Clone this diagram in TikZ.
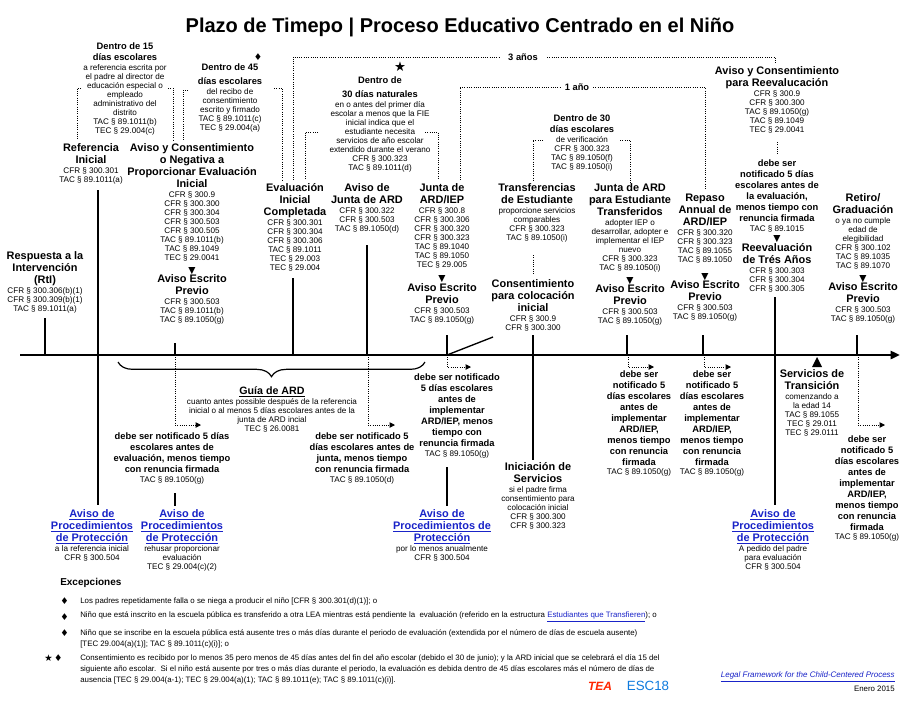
\documentclass[tikz,border=0pt]{standalone}
\usepackage{fontspec}
\setmainfont{Liberation Sans}
\newfontfamily\djv{DejaVu Sans}
\usetikzlibrary{arrows.meta,decorations.pathreplacing}
\definecolor{linkblue}{RGB}{25,35,200}
\newcommand\Hd{\fontsize{8.2}{9}\selectfont\bfseries}
\newcommand\Sm{\fontsize{6.1}{6.75}\selectfont\mdseries}
\newcommand\Ft{\fontsize{5.9}{6.75}\selectfont\mdseries}
\newcommand\Md{\fontsize{7}{8.2}\selectfont\bfseries}
\newcommand\HB[1]{{\Hd\begin{tabular}{@{}c@{}}#1\end{tabular}}}
\newcommand\SB[1]{{\Sm\begin{tabular}{@{}c@{}}#1\end{tabular}}}
\newcommand\MB[1]{{\Md\begin{tabular}{@{}c@{}}#1\end{tabular}}}
\newcommand\SBk[1]{{\color{black}\Sm\begin{tabular}{@{}c@{}}#1\end{tabular}}}
\newcommand\SL[1]{{\Ft\begin{tabular}{@{}l@{}}#1\end{tabular}}}
\newcommand\Tri{{\fontsize{7}{8}\selectfont\djv ▼}}
\newcommand\Lk[1]{\underline{#1}}
\tikzset{
 tx/.style={anchor=north,align=center,inner sep=0pt,font={\Sm\lineskip=0pt\lineskiplimit=0pt}},
 tick/.style={line width=1.3pt},
 dots/.style={densely dotted,line width=0.7pt},
 darr/.style={densely dotted,line width=0.7pt,-{Triangle[length=4pt,width=4pt]}},
 blue/.style={tx,text=linkblue},
}
\setlength\tabcolsep{0pt}
\begin{document}
\begin{tikzpicture}[x=0.75pt,y=-0.75pt]
\useasboundingbox (0,0) rectangle (919,711);
\fill[white] (0,0) rectangle (919,711);
\node[anchor=north,inner sep=0pt] (title) at (460,18) {\fontsize{15}{17}\selectfont\bfseries Plazo de Timepo | Proceso Educativo Centrado en el Niño};
% timeline
\coordinate (t0) at (20,355); \coordinate (t1) at (900,355);
\draw[line width=1.8pt,-{Triangle[length=7pt,width=6pt]}] (t0) -- (t1);
% ---------- top nodes
\node[tx] (d15) at (125,42) {\MB{Dentro de 15\\días escolares}\\\SB{a referencia escrita por\\el padre al director de\\educación especial o\\empleado\\administrativo del\\distrito\\TAC § 89.1011(b)\\TEC § 29.004(c)}};
\node[tx] (d45) at (230,63) {\MB{Dentro de 45\\[2pt]días escolares}\\\SB{del recibo de\\consentimiento\\escrito y firmado\\TAC § 89.1011(c)\\TEC § 29.004(a)}};
\node (dia1) at (258,57) {\djv\fontsize{7}{8}\selectfont ♦};
\node[tx] (ref) at (91,143) {\HB{Referencia\\Inicial}\\\SB{CFR § 300.301\\TAC § 89.1011(a)}};
\node[tx] (avc) at (192,143) {\HB{Aviso y Consentimiento\\o Negativa a\\Proporcionar Evaluación\\Inicial}\\\SB{CFR § 300.9\\CFR § 300.300\\CFR § 300.304\\CFR § 300.503\\CFR § 300.505\\TAC § 89.1011(b)\\TAC § 89.1049\\TEC § 29.0041}\\[3pt]\Tri\\\HB{Aviso Escrito\\Previo}\\\SB{CFR § 300.503\\TAC § 89.1011(b)\\TAC § 89.1050(g)}};
\node[tx] (rti) at (45,251) {\HB{Respuesta a la\\Intervención\\(RtI)}\\\SB{CFR § 300.306(b)(1)\\CFR § 300.309(b)(1)\\TAC § 89.1011(a)}};
\node[tx] (evc) at (295,183) {\HB{Evaluación\\Inicial\\Completada}\\\SB{CFR § 300.301\\CFR § 300.304\\CFR § 300.306\\TAC § 89.1011\\TEC § 29.003\\TEC § 29.004}};
\node[tx] (ajd) at (367,183) {\HB{Aviso de\\Junta de ARD}\\\SB{CFR § 300.322\\CFR § 300.503\\TAC § 89.1050(d)}};
\node[tx] (d30n) at (380,76) {\MB{Dentro de\\[2pt]30 días naturales}\\\SB{en o antes del primer día\\escolar a menos que la FIE\\inicial indica que el\\estudiante necesita\\servicios de año escolar\\extendido durante el verano\\CFR § 300.323\\TAC § 89.1011(d)}};
\node (star) at (400,67) {\djv\fontsize{10}{10}\selectfont ★};
\node[tx] (jai) at (442,183) {\HB{Junta de\\ARD/IEP}\\\SB{CFR § 300.8\\CFR § 300.306\\CFR § 300.320\\CFR § 300.323\\TAC § 89.1040\\TAC § 89.1050\\TEC § 29.005}\\[4pt]\Tri\\\HB{Aviso Escrito\\Previo}\\\SB{CFR § 300.503\\TAC § 89.1050(g)}};
\node[tx] (tre) at (537,183) {\HB{Transferencias\\de Estudiante}\\\SB{proporcione servicios\\comparables\\CFR § 300.323\\TAC § 89.1050(i)}};
\node[tx] (con) at (533,279) {\HB{Consentimiento\\para colocación\\inicial}\\\SB{CFR § 300.9\\CFR § 300.300}};
\node[tx] (d30e) at (582,114) {\MB{Dentro de 30\\días escolares}\\\SB{de verificación\\CFR § 300.323\\TAC § 89.1050(f)\\TAC § 89.1050(i)}};
\node[tx] (jtr) at (630,183) {\HB{Junta de ARD\\para Estudiante\\Transferidos}\\\SB{adopter IEP o\\desarrollar, adopter e\\implementar el IEP\\nuevo\\CFR § 300.323\\TAC § 89.1050(i)}\\[3pt]\Tri\\\HB{Aviso Escrito\\Previo}\\\SB{CFR § 300.503\\TAC § 89.1050(g)}};
\node[tx] (rep) at (705,193) {\HB{Repaso\\Annual de\\ARD/IEP}\\\SB{CFR § 300.320\\CFR § 300.323\\TAC § 89.1055\\TAC § 89.1050}\\[6pt]\Tri\\\HB{Aviso Escrito\\Previo}\\\SB{CFR § 300.503\\TAC § 89.1050(g)}};
\node[tx] (acr) at (777,66) {\HB{Aviso y Consentimiento\\para Reevalucación}\\\SB{CFR § 300.9\\CFR § 300.300\\TAC § 89.1050(g)\\TAC § 89.1049\\TEC § 29.0041}};
\node[tx] (dsr) at (777,159) {\MB{debe ser\\notificado 5 días\\escolares antes de\\la evaluación,\\menos tiempo con\\renuncia firmada}\\\SB{TAC § 89.1015}\\[1pt]\Tri\\\HB{Reevaluación\\de Trés Años}\\\SB{CFR § 300.303\\CFR § 300.304\\CFR § 300.305}};
\node[tx] (ret) at (863,193) {\HB{Retiro/\\Graduación}\\\SB{o ya no cumple\\edad de\\elegibilidad\\CFR § 300.102\\TAC § 89.1035\\TAC § 89.1070}\\[3pt]\Tri\\\HB{Aviso Escrito\\Previo}\\\SB{CFR § 300.503\\TAC § 89.1050(g)}};
% top dotted brackets
\draw[dots] (81,88) -- (77,88) -- (77,140);
\draw[dots] (168,88) -- (173,88) -- (173,140);
\draw[dots] (188,90) -- (183,90) -- (183,140);
\draw[dots] (274,88) -- (282,88) -- (282,180);
\draw[dots] (293,180) -- (293,57) -- (500,57);
\draw[dots] (547,57) -- (775,57) -- (775,64);
\node[font=\Md] (y3) at (523,57) {3 años};
\draw[dots] (318,132) -- (305,132) -- (305,180);
\draw[dots] (425,132) -- (438,132) -- (438,180);
\draw[dots] (460,180) -- (460,87) -- (560,87);
\draw[dots] (593,87) -- (705,87) -- (705,190);
\node[font=\Md] (y1) at (577,87) {1 año};
\draw[dots] (543,140) -- (533,140) -- (533,180);
\draw[dots] (620,140) -- (630,140) -- (630,183);
\draw[dots] (533,255) -- (533,274);
\draw[dots] (777,142) -- (777,155);
% ticks
\draw[tick] (45,318) -- (45,355);
\draw[tick] (98,190) -- (98,505);
\draw[tick] (175,343) -- (175,355);
\draw[tick] (293,278) -- (293,355);
\draw[tick] (367,245) -- (367,355);
\draw[tick] (447,335) -- (447,355);
\draw[line width=1pt] (447,355) -- (493,337);
\draw[tick] (533,335) -- (533,460);
\draw[tick] (627,335) -- (627,355);
\draw[tick] (703,335) -- (703,355);
\draw[tick] (775,297) -- (775,505);
\draw[tick] (857,335) -- (857,355);
\fill (817,357) -- (822,367) -- (812,367) -- cycle;
% dotted arrows below
\draw[darr] (175,357) -- (175,425) -- (201,425);
\draw[darr] (368,357) -- (368,425) -- (395,425);
\draw[darr] (447,357) -- (447,367) -- (471,367);
\draw[darr] (628,357) -- (628,367) -- (654,367);
\draw[darr] (704,357) -- (704,367) -- (731,367);
\draw[darr] (858,357) -- (858,425) -- (885,425);
\draw[tick] (175,493) -- (175,506);
\draw[tick] (447,467) -- (447,506);
% brace
\draw[line width=0.9pt,decorate,decoration={brace,mirror,amplitude=11pt}] (118,362) -- (425,362);
% below nodes
\node[tx] (gui) at (272,386) {{\fontsize{8}{9}\selectfont\bfseries\underline{Guía de ARD}}\\[1pt]\SB{cuanto antes possible después de la referencia\\inicial o al menos 5 días escolares antes de la\\junta de ARD incial\\TEC § 26.0081}};
\node[tx] (dse) at (172,432) {\MB{debe ser notificado 5 días\\escolares antes de\\evaluación, menos tiempo\\con renuncia firmada}\\\SB{TAC § 89.1050(g)}};
\node[tx] (dsj) at (362,432) {\MB{debe ser notificado 5\\días escolares antes de\\junta, menos tiempo\\con renuncia firmada}\\\SB{TAC § 89.1050(d)}};
\node[tx] (dsa) at (457,373) {\MB{debe ser notificado\\5 días escolares\\antes de\\implementar\\ARD/IEP, menos\\tiempo con\\renuncia firmada}\\\SB{TAC § 89.1050(g)}};
\node[tx] (ini) at (538,462) {\HB{Iniciación de\\Servicios}\\\SB{si el padre firma\\consentimiento para\\colocación inicial\\CFR § 300.300\\CFR § 300.323}};
\node[tx] (ds6) at (639,370) {\MB{debe ser\\notificado 5\\días escolares\\antes de\\implementar\\ARD/IEP,\\menos tiempo\\con renuncia\\firmada}\\\SB{TAC § 89.1050(g)}};
\node[tx] (ds7) at (712,370) {\MB{debe ser\\notificado 5\\días escolares\\antes de\\implementar\\ARD/IEP,\\menos tiempo\\con renuncia\\firmada}\\\SB{TAC § 89.1050(g)}};
\node[tx] (stx) at (812,369) {\HB{Servicios de\\Transición}\\\SB{comenzando a\\la edad 14\\TAC § 89.1055\\TEC § 29.011\\TEC § 29.0111}};
\node[tx] (ds8) at (867,435) {\MB{debe ser\\notificado 5\\días escolares\\antes de\\implementar\\ARD/IEP,\\menos tiempo\\con renuncia\\firmada}\\\SB{TAC § 89.1050(g)}};
\node[blue] (ap1) at (92,509) {\HB{\Lk{Aviso de}\\\Lk{Procedimientos}\\\Lk{de Protección}}\\\SBk{a la referencia inicial\\CFR § 300.504}};
\node[blue] (ap2) at (182,509) {\HB{\Lk{Aviso de}\\\Lk{Procedimientos}\\\Lk{de Protección}}\\\SBk{rehusar proporcionar\\evaluación\\TEC § 29.004(c)(2)}};
\node[blue] (ap3) at (442,509) {\HB{\Lk{Aviso de}\\\Lk{Procedimientos de}\\\Lk{Protección}}\\\SBk{por lo menos anualmente\\CFR § 300.504}};
\node[blue] (ap4) at (773,509) {\HB{\Lk{Aviso de}\\\Lk{Procedimientos}\\\Lk{de Protección}}\\\SBk{A pedido del padre\\para evaluación\\CFR § 300.504}};
% footer
\node[anchor=west,inner sep=0pt] (exc) at (60,583) {\fontsize{7.5}{8}\selectfont\bfseries Excepciones};
\node[anchor=west,inner sep=0pt] (b1) at (60,601) {\djv\fontsize{7}{8}\selectfont ♦};
\node[anchor=west,inner sep=0pt] (e1) at (80,601) {\Ft Los padres repetidamente falla o se niega a producir el niño [CFR § 300.301(d)(1)]; o};
\node[anchor=west,inner sep=0pt] (b2) at (60,617) {\djv\fontsize{7}{8}\selectfont ♦};
\node[anchor=west,inner sep=0pt] (e2) at (80,617) {\Ft Niño que está inscrito en la escuela pública es transferido a otra LEA mientras está pendiente la\ \ evaluación (referido en la estructura {\color{linkblue}\underline{Estudiantes que Transfieren}}); o};
\node[anchor=west,inner sep=0pt] (b3) at (60,633) {\djv\fontsize{7}{8}\selectfont ♦};
\node[anchor=north west,inner sep=0pt] (e3) at (80,629) {\SL{Niño que se inscribe en la escuela pública está ausente tres o más días durante el periodo de evaluación (extendida por el número de días de escuela ausente)\\[1.5pt] [TEC 29.004(a)(1)]; TAC § 89.1011(c)(i)]; o}};
\node[anchor=west,inner sep=0pt] (b4) at (44,658) {\djv\fontsize{7}{8}\selectfont ★\,♦};
\node[anchor=north west,inner sep=0pt] (e4) at (80,654) {\SL{Consentimiento es recibido por lo menos 35 pero menos de 45 días antes del fin del año escolar (debido el 30 de junio); y la ARD inicial que se celebrará el día 15 del\\[1.5pt]siguiente año escolar.\ \ Si el niño está ausente por tres o más días durante el periodo, la evaluación es debida dentro de 45 días escolares más el número de días de\\[1.5pt]ausencia [TEC § 29.004(a-1); TEC § 29.004(a)(1); TAC § 89.1011(e); TAC § 89.1011(c)(i)].}};
\node (tea) at (600,686) {\fontsize{9}{10}\selectfont\bfseries\itshape\color{red!70!orange}TEA};
\node (esc) at (648,686) {\fontsize{10}{10}\selectfont\color{linkblue!60!cyan}ESC18};
\node[anchor=east,inner sep=0pt] (lf) at (895,677) {\fontsize{6}{7}\selectfont\itshape\color{linkblue}\underline{Legal Framework for the Child-Centered Process}};
\node[anchor=east,inner sep=0pt] (en) at (895,689) {\Ft Enero 2015};
\end{tikzpicture}
\end{document}
